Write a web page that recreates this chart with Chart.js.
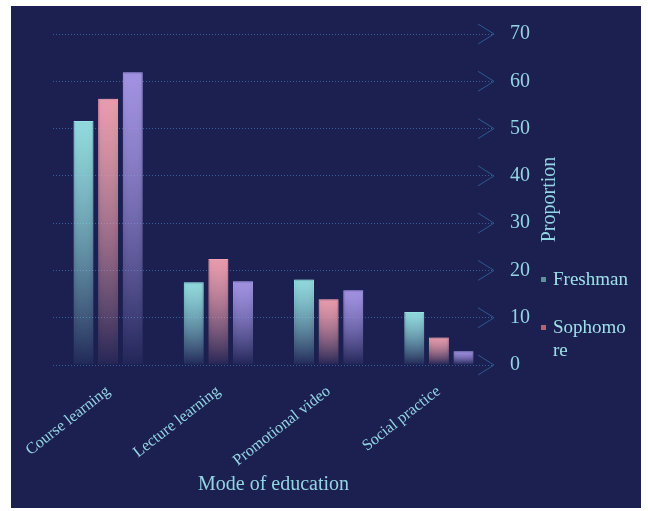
<!DOCTYPE html>
<html>
<head>
<meta charset="utf-8">
<script src="https://cdn.jsdelivr.net/npm/chart.js@4.4.1/dist/chart.umd.min.js"></script>
<style>
    body { margin: 0; background: #ffffff; width: 648px; height: 511px; overflow: hidden; }
    #panel { position: absolute; left: 11px; top: 6px; width: 630px; height: 502px; background: #1c2051; }
    #chart { position: absolute; left: 0; top: 0; }
    #legend { position: absolute; left: 529px; top: 261px; width: 100px; height: 110px; overflow: hidden;
              font-family: 'Liberation Serif', serif; font-size: 19px; color: #9fe0e8; }
    .item { position: relative; padding-left: 13px; width: 77px; word-break: break-all; line-height: 23px; margin-bottom: 25px; }
    .item .mark { position: absolute; left: 1px; top: 10px; width: 5px; height: 5px; }
</style>
</head>
<body>
<div id="panel">
    <canvas id="chart" width="630" height="502"></canvas>
    <div id="legend"></div>
</div>
<script>
// Data
const categories = ['Course learning', 'Lecture learning', 'Promotional video', 'Social practice'];
const seriesNames = ['Freshman', 'Sophomore', 'Junior'];
const freshman = [51.6, 17.5, 18.1, 11.2];
const sophomore = [56.3, 22.4, 13.9, 5.8];
const junior = [61.9, 17.7, 15.8, 2.9];
const yMin = 0, yMax = 70, yStep = 10;

const textColor = '#93d5e3';
const serif = 'Liberation Serif';
const barRgb = ['150,226,226', '242,162,176', '168,152,232'];
const markColors = ['#5f919c', '#a86878', '#7e70b8'];

// Each bar fades from its own top colour down to the baseline
function barFill(rgb, a0, a1) {
    return function (ctx) {
        const chart = ctx.chart;
        const y = chart.scales.y;
        const flat = `rgba(${rgb},${a0})`;
        if (!y || ctx.type !== 'data') return flat;
        const top = y.getPixelForValue(ctx.raw);
        const base = y.getPixelForValue(0);
        if (!isFinite(top) || !isFinite(base) || top === base) return flat;
        const g = chart.ctx.createLinearGradient(0, top, 0, base);
        g.addColorStop(0, `rgba(${rgb},${a0})`);
        g.addColorStop(1, `rgba(${rgb},${a1})`);
        return g;
    };
}

function makeDataset(label, values, i) {
    return {
        label: label,
        data: values,
        backgroundColor: barFill(barRgb[i], 0.92, 0.03),
        borderColor: barFill(barRgb[i], 1, 0.05),
        borderWidth: 1,
        borderSkipped: 'bottom'
    };
}

// soft glow around bars
const glow = {
    id: 'glow',
    beforeDatasetDraw(chart, args) {
        const c = chart.ctx;
        c.save();
        c.shadowColor = `rgba(${barRgb[args.index]},0.55)`;
        c.shadowBlur = 6;
    },
    afterDatasetDraw(chart) {
        chart.ctx.restore();
    }
};

// chevrons at the end of each grid line + rotated axis title
const decor = {
    id: 'decor',
    beforeDatasetsDraw(chart) {
        const {ctx, chartArea, scales: {y}} = chart;
        ctx.save();
        ctx.strokeStyle = '#2e5a8e';
        ctx.lineWidth = 1;
        y.ticks.forEach(t => {
            const py = y.getPixelForValue(t.value);
            ctx.beginPath();
            ctx.moveTo(chartArea.right - 16, py - 10);
            ctx.lineTo(chartArea.right, py);
            ctx.lineTo(chartArea.right - 16, py + 10);
            ctx.stroke();
        });
        ctx.restore();
    },
    afterDraw(chart) {
        const {ctx, chartArea, scales: {y}} = chart;
        ctx.save();
        ctx.translate(y.left + 56, (chartArea.top + chartArea.bottom) / 2);
        ctx.rotate(-Math.PI / 2);
        ctx.fillStyle = textColor;
        ctx.font = `20px "${serif}"`;
        ctx.textAlign = 'center';
        ctx.textBaseline = 'middle';
        ctx.fillText('Proportion', 0, 0);
        ctx.restore();
    }
};

const chart = new Chart(document.getElementById('chart'), {
    type: 'bar',
    data: {
        labels: categories,
        datasets: [
            makeDataset(seriesNames[0], freshman, 0),
            makeDataset(seriesNames[1], sophomore, 1),
            makeDataset(seriesNames[2], junior, 2)
        ]
    },
    options: {
        responsive: false,
        animation: false,
        barPercentage: 0.81,
        categoryPercentage: 0.67,
        layout: { padding: { left: 42, top: 26, right: 0, bottom: 0 } },
        plugins: {
            legend: { display: false },
            tooltip: { enabled: false }
        },
        scales: {
            x: {
                grid: { display: false },
                border: { display: false },
                ticks: {
                    color: textColor,
                    font: { family: serif, size: 16 },
                    minRotation: 38,
                    maxRotation: 38,
                    padding: 9
                },
                title: {
                    display: true,
                    text: 'Mode of education',
                    color: textColor,
                    font: { family: serif, size: 20 },
                    padding: { top: 4, bottom: 11 }
                },
                afterFit(scale) {
                    scale.height = 143;
                    scale.paddingLeft = 0;
                    scale.paddingRight = 0;
                }
            },
            y: {
                position: 'right',
                min: yMin,
                max: yMax,
                grid: {
                    color: 'rgba(64,118,178,0.75)',
                    lineWidth: 1,
                    drawTicks: false,
                    borderDash: [1, 2]
                },
                border: { display: false, dash: [1, 2] },
                ticks: {
                    stepSize: yStep,
                    color: textColor,
                    font: { family: serif, size: 20 },
                    padding: 16
                },
                afterFit(scale) { scale.width = 147; }
            }
        }
    },
    plugins: [glow, decor]
});

// legend box (overflowing items are clipped like in the reference)
const legendEl = document.getElementById('legend');
chart.data.datasets.forEach((ds, i) => {
    const item = document.createElement('div');
    item.className = 'item';
    const mark = document.createElement('span');
    mark.className = 'mark';
    mark.style.background = markColors[i];
    item.appendChild(mark);
    item.appendChild(document.createTextNode(ds.label));
    legendEl.appendChild(item);
});
</script>
</body>
</html>
